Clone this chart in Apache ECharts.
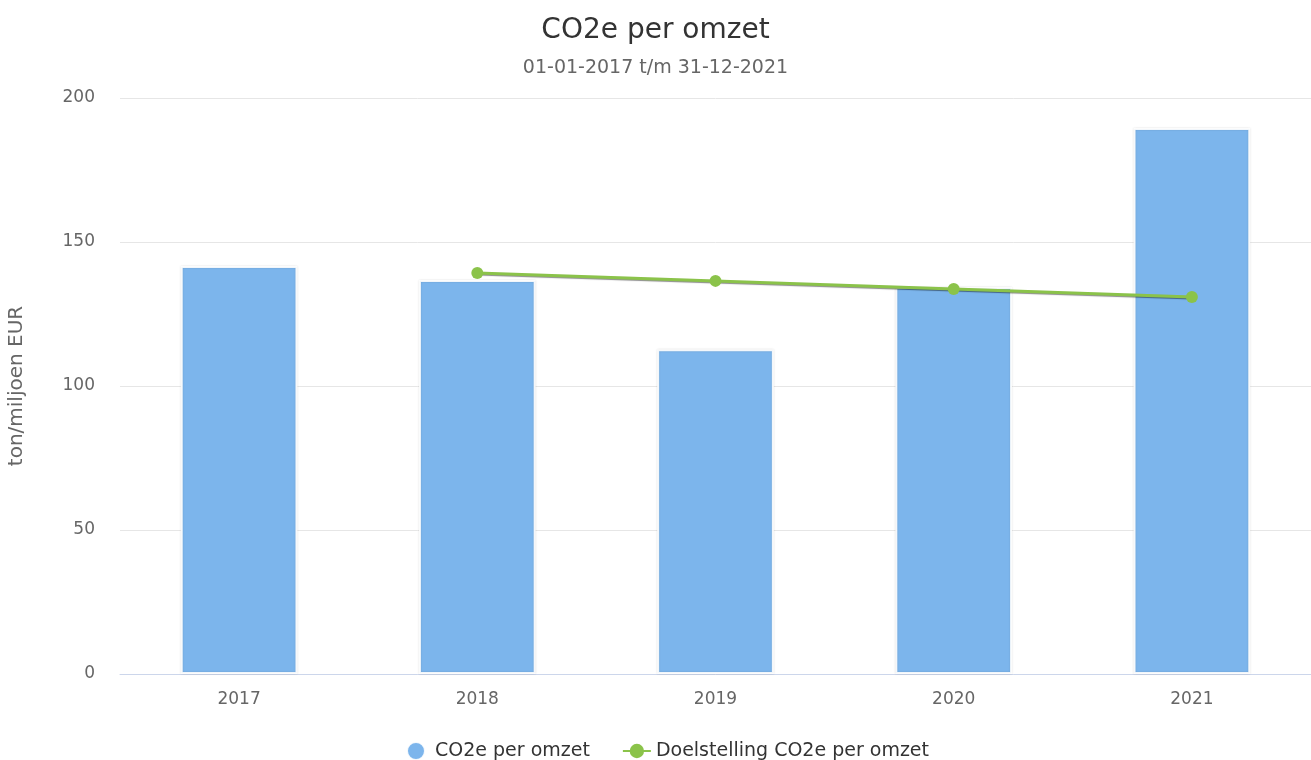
<!DOCTYPE html>
<html><head><meta charset="utf-8">
<script src="https://cdn.jsdelivr.net/npm/echarts@6/dist/echarts.min.js"></script>
<style>html,body{margin:0;padding:0;background:#fff}#c{width:1311px;height:760px}</style>
</head><body><div id="c"></div>
<script>
const categories = ['2017','2018','2019','2020','2021'];
const co2Values = [141.7, 136.8, 112.8, 134.4, 189.6];
const targetValues = [null, 139.2, 136.5, 133.7, 130.9];
const yTicks = [0, 50, 100, 150, 200];

const FONT = 'DejaVu Sans, Verdana, sans-serif';
const chart = echarts.init(document.getElementById('c'));
chart.setOption({
  animation: false,
  title: {
    text: 'CO2e per omzet',
    subtext: '01-01-2017 t/m 31-12-2021',
    left: 'center', top: 12, itemGap: 14,
    textStyle: {fontFamily: FONT, fontSize: 28, fontWeight: 'normal', color: '#333'},
    subtextStyle: {fontFamily: FONT, fontSize: 19, color: '#666'}
  },
  legend: {
    top: 736, left: 401, itemGap: 32,
    textStyle: {fontFamily: FONT, fontSize: 19, color: '#333'},
    data: [
      {name: 'CO2e per omzet', icon: 'circle'},
      {name: 'Doelstelling CO2e per omzet'}
    ],
    itemWidth: 28, itemHeight: 18
  },
  grid: {left: 120, right: 0, top: 98, bottom: 86, outerBoundsMode: 'none'},
  xAxis: {
    type: 'category', data: categories,
    axisLine: {lineStyle: {color: '#ccd6eb'}},
    axisTick: {show: false},
    axisLabel: {fontFamily: FONT, fontSize: 17, color: '#666', margin: 17}
  },
  yAxis: {
    type: 'value', min: yTicks[0], max: yTicks[yTicks.length-1], interval: 50,
    name: 'ton/miljoen EUR', nameLocation: 'middle', nameGap: 93, nameRotate: 90,
    nameTextStyle: {fontFamily: FONT, fontSize: 20, color: '#666'},
    axisLine: {show: false}, axisTick: {show: false},
    axisLabel: {fontFamily: FONT, fontSize: 17, color: '#666', margin: 25},
    splitLine: {lineStyle: {color: '#e6e6e6'}}
  },
  series: [
    {
      name: 'CO2e per omzet', type: 'bar', data: co2Values, barWidth: '49%',
      itemStyle: {color: '#7cb5ec', borderColor: 'rgba(255,255,255,0.9)', borderWidth: 2,
        shadowColor: 'rgba(0,0,0,0.15)', shadowBlur: 2, shadowOffsetX: 0, shadowOffsetY: 0}
    },
    {
      name: 'Doelstelling CO2e per omzet', type: 'line', data: targetValues,
      symbol: 'circle', symbolSize: 12,
      lineStyle: {color: '#8bc34a', width: 3, shadowColor: 'rgba(0,0,0,0.45)', shadowBlur: 1, shadowOffsetY: 1},
      itemStyle: {color: '#8bc34a'}
    }
  ]
});
</script></body></html>
